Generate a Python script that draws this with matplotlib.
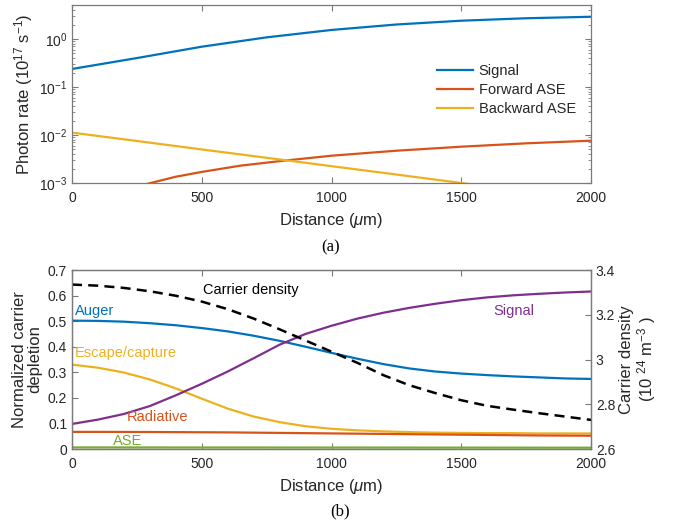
import numpy as np
import matplotlib
matplotlib.use("Agg")
import matplotlib.pyplot as plt
from matplotlib.ticker import LogLocator, NullFormatter

plt.rcParams["font.family"] = ["Liberation Sans", "DejaVu Sans"]
plt.rcParams["mathtext.fontset"] = "custom"
plt.rcParams["mathtext.rm"] = "Liberation Sans"
plt.rcParams["mathtext.it"] = "Liberation Sans:italic"

# (a) photon rates along the amplifier, 1e17 s^-1
z_sig = [0, 250, 500, 750, 1000, 1250, 1500, 1750, 2000]
signal_rate = [0.237, 0.40, 0.69, 1.08, 1.54, 2.0, 2.4, 2.7, 2.9]
z_fwd = [280, 400, 500, 650, 800, 1000, 1250, 1500, 1750, 2000]
fwd_ase = [0.93e-3, 1.35e-3, 1.7e-3, 2.3e-3, 2.85e-3, 3.7e-3, 4.7e-3, 5.7e-3, 6.7e-3, 7.6e-3]
z_bwd = [0, 250, 500, 750, 1000, 1250, 1500, 1600]
bwd_ase = [1.12e-2, 7.5e-3, 5.0e-3, 3.35e-3, 2.24e-3, 1.5e-3, 1.0e-3, 0.85e-3]

# (b) normalized carrier depletion terms and carrier density (1e24 m^-3)
z = list(range(0, 2001, 100))
auger = [0.502, 0.501, 0.498, 0.492, 0.484, 0.473, 0.460, 0.443, 0.423, 0.400, 0.376,
         0.353, 0.332, 0.315, 0.303, 0.295, 0.289, 0.284, 0.280, 0.276, 0.274]
escape = [0.330, 0.318, 0.299, 0.272, 0.237, 0.197, 0.158, 0.127, 0.105, 0.089, 0.079,
          0.073, 0.069, 0.066, 0.064, 0.063, 0.062, 0.062, 0.061, 0.061, 0.061]
sig_dep = [0.098, 0.115, 0.137, 0.168, 0.210, 0.255, 0.303, 0.355, 0.408, 0.450, 0.482,
           0.510, 0.533, 0.552, 0.568, 0.582, 0.593, 0.601, 0.607, 0.612, 0.616]
radiative = [0.067, 0.067, 0.0668, 0.0665, 0.066, 0.0655, 0.065, 0.064, 0.063, 0.062, 0.061,
             0.060, 0.059, 0.058, 0.057, 0.056, 0.055, 0.054, 0.053, 0.0525, 0.052]
ase_dep = [0.0062, 0.0062, 0.0061, 0.0061, 0.006, 0.006, 0.0059, 0.0059, 0.0058, 0.0058, 0.0057,
           0.0057, 0.0056, 0.0056, 0.0055, 0.0055, 0.0054, 0.0054, 0.0053, 0.0053, 0.0052]
density = [3.335, 3.330, 3.320, 3.305, 3.285, 3.259, 3.225, 3.183, 3.135, 3.085, 3.035,
           2.985, 2.930, 2.885, 2.850, 2.818, 2.793, 2.776, 2.760, 2.745, 2.730]

BLUE, ORANGE, YELLOW, PURPLE, GREEN = "#0072BD", "#D95319", "#EDB120", "#7E2F8E", "#77AC30"
AX_C, TXT_C = "#7a7a7a", "#262626"
LAB_FS, TICK_FS, ANN_FS = 12, 10, 10.5

fig = plt.figure(figsize=(6.85, 5.31), dpi=100)
ax1 = fig.add_axes([0.1051, 0.6554, 0.7577, 0.3352])
ax2 = fig.add_axes([0.1051, 0.1544, 0.7577, 0.3371])


def style(ax):
    for s in ax.spines.values():
        s.set_color(AX_C)
        s.set_linewidth(0.9)
    ax.tick_params(which="both", direction="in", color=AX_C, labelcolor=TXT_C, labelsize=TICK_FS)
    ax.tick_params(which="major", length=4)
    ax.tick_params(which="minor", length=2)
    ax.tick_params(axis="x", pad=6)


# ---- (a) ----
ax1.semilogy(z_sig, signal_rate, color=BLUE, lw=1.6, label="Signal")
ax1.semilogy(z_fwd, fwd_ase, color=ORANGE, lw=1.6, label="Forward ASE")
ax1.semilogy(z_bwd, bwd_ase, color=YELLOW, lw=1.6, label="Backward ASE")
ax1.set_xlim(0, 2000)
ax1.set_ylim(1e-3, 5.1)
ax1.set_xticks([0, 500, 1000, 1500, 2000])
ax1.yaxis.set_major_locator(LogLocator(base=10, numticks=10))
ax1.yaxis.set_minor_locator(LogLocator(base=10, subs=np.arange(2, 10), numticks=10))
ax1.yaxis.set_minor_formatter(NullFormatter())
ax1.tick_params(which="both", top=True, right=True)
style(ax1)
ax1.set_xlabel(r"Distance ($\mu$m)", fontsize=LAB_FS, color=TXT_C, labelpad=4)
ax1.set_ylabel(r"Photon rate (10$^{17}$ s$^{-1}$)", fontsize=LAB_FS, color=TXT_C, labelpad=3)
leg = ax1.legend(loc="upper left", bbox_to_anchor=(0.692, 0.70), frameon=False, fontsize=ANN_FS,
                 handlelength=2.5, handletextpad=0.35, labelspacing=0.33, borderaxespad=0)
for t in leg.get_texts():
    t.set_color(TXT_C)
fig.text(0.483, 0.535, "(a)", family="Liberation Serif", fontsize=12, ha="center", va="center")

# ---- (b) ----
ax2.plot(z, auger, color=BLUE, lw=1.6)
ax2.plot(z, escape, color=YELLOW, lw=1.6)
ax2.plot(z, sig_dep, color=PURPLE, lw=1.6)
ax2.plot(z, radiative, color=ORANGE, lw=1.6)
ax2.plot(z, ase_dep, color=GREEN, lw=1.6)
ax2.set_xlim(0, 2000)
ax2.set_ylim(0, 0.7)
ax2.set_xticks([0, 500, 1000, 1500, 2000])
ax2.set_yticks(np.arange(0, 0.71, 0.1))
ax2.set_yticklabels(["0", "0.1", "0.2", "0.3", "0.4", "0.5", "0.6", "0.7"])
ax2.tick_params(top=True)
style(ax2)
ax2.set_xlabel(r"Distance ($\mu$m)", fontsize=LAB_FS, color=TXT_C, labelpad=4)
ax2.set_ylabel("Normalized carrier\ndepletion", fontsize=LAB_FS, color=TXT_C, labelpad=4,
               linespacing=1.05)

ax3 = ax2.twinx()
ax3.plot(z, density, color="black", lw=1.8, ls=(0, (4, 2.5)))
ax3.set_ylim(2.6, 3.4)
ax3.set_yticks([2.6, 2.8, 3.0, 3.2, 3.4])
ax3.set_yticklabels(["2.6", "2.8", "3", "3.2", "3.4"])
style(ax3)
ax3.set_ylabel("Carrier density\n(10 $^{24}$ m$^{-3}$ )", fontsize=LAB_FS, color=TXT_C,
               labelpad=3, linespacing=1.05)

ax2.text(505, 0.622, "Carrier density", color="black", fontsize=ANN_FS, va="center")
ax2.text(12, 0.540, "Auger", color=BLUE, fontsize=ANN_FS, va="center")
ax2.text(1622, 0.540, "Signal", color=PURPLE, fontsize=ANN_FS, va="center")
ax2.text(12, 0.375, "Escape/capture", color=YELLOW, fontsize=ANN_FS, va="center")
ax2.text(212, 0.125, "Radiative", color=ORANGE, fontsize=ANN_FS, va="center")
ax2.text(158, 0.031, "ASE", color=GREEN, fontsize=ANN_FS, va="center")
fig.text(0.497, 0.036, "(b)", family="Liberation Serif", fontsize=12, ha="center", va="center")

fig.savefig("out.png", dpi=100)
